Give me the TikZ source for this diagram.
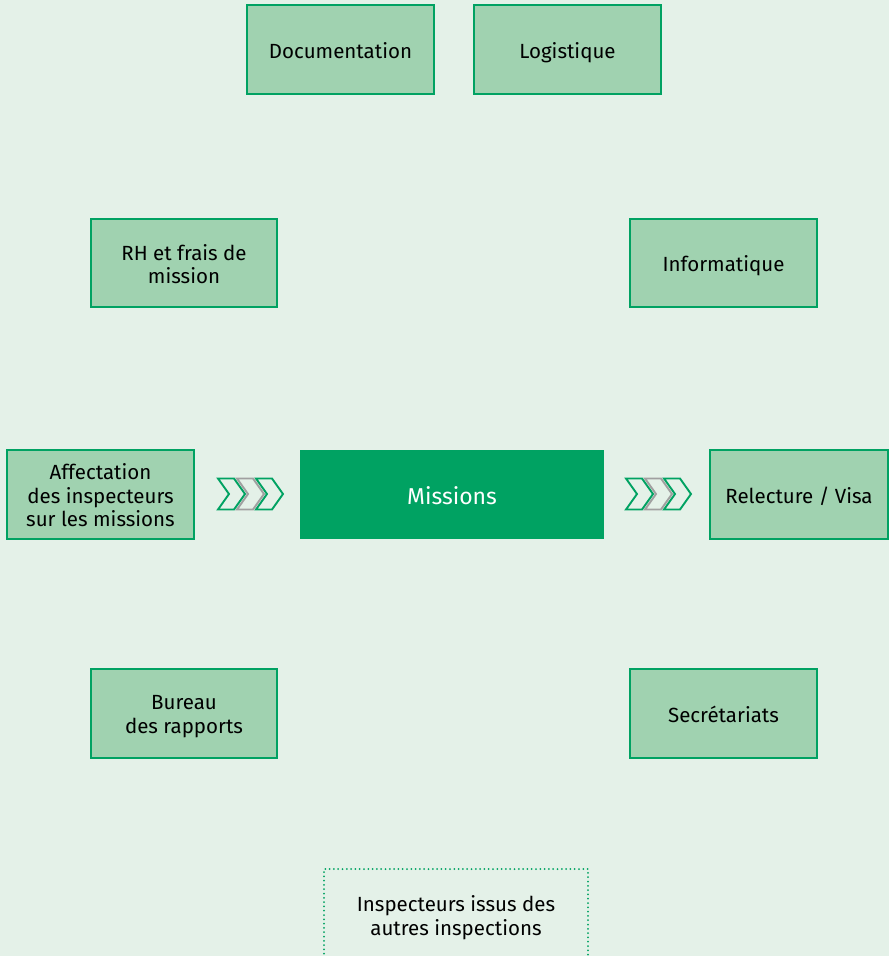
\documentclass[tikz,border=0pt]{standalone}
\usepackage{fontspec}
\setmainfont{Fira Sans}
\definecolor{bg}{HTML}{E4F1E8}
\definecolor{boxfill}{HTML}{A0D2B0}
\definecolor{dgreen}{HTML}{00A262}
\definecolor{chgray}{HTML}{A0A0A0}
\newcommand\mystrut{\rule[-5.5pt]{0pt}{28.5pt}}
\begin{document}
\begin{tikzpicture}[x=1pt,y=-1pt,
  txt/.style={align=center,inner sep=0pt,font=\fontsize{20.5}{23.5}\selectfont,text=black,execute at begin node=\mystrut,execute at end node=\mystrut},
  box/.style={draw=dgreen,line width=2.2pt,fill=boxfill,inner sep=0pt},
  chev/.style={line width=1.9pt,line join=miter}]
\fill[bg] (0,0) rectangle (889,956);
\useasboundingbox (0,0) rectangle (889,956);
\newcommand\bx[7][0pt]{\node[box,minimum width=#4-#3,minimum height=#6-#5] (#2) at ({(#3+#4)/2},{(#5+#6)/2}) {};
  \node[txt] (#2-t) at ([yshift=#1]#2.center) {#7};}
\bx{doc}{247}{434}{5}{94}{Documentation}
\bx{log}{474}{661}{5}{94}{Logistique}
\bx[-3.5pt]{rh}{91}{277}{219}{307}{RH et frais de\\mission}
\bx{info}{630}{817}{219}{307}{Informatique}
\bx[-3.5pt]{aff}{7}{194}{450}{539}{Affectation\\des inspecteurs\\sur les missions}
\bx{rel}{710}{888}{450}{539}{Relecture / Visa}
\bx[-3.5pt]{bur}{91}{277}{669}{758}{Bureau\\des rapports}
\bx{sec}{630}{817}{669}{758}{Secrétariats}
\node[fill=dgreen,inner sep=0pt,minimum width=304,minimum height=89,text=white,font=\fontsize{23}{26}\selectfont,execute at begin node={\rule[-6pt]{0pt}{31.5pt}}] (mis) at (452,494.5) {Missions};
\draw[dgreen,line width=2pt,line cap=round,dash pattern=on 0pt off 4.3pt] (324,958) -- (324,869) -- (588,869) -- (588,958);
\node[txt] (insp) at (456,918) {Inspecteurs issus des\\autres inspections};
\newcommand\chevron[3]{\draw[chev,#3] (#1,#2-15.5) -- ++(16,0) -- ++(11,15.5) -- ++(-11,15.5) -- ++(-16,0) -- ++(11,-15.5) -- cycle;}
\chevron{256}{494}{dgreen}
\chevron{237}{494}{chgray}
\chevron{218}{494}{dgreen}
\chevron{664}{494}{dgreen}
\chevron{645}{494}{chgray}
\chevron{626}{494}{dgreen}
\end{tikzpicture}
\end{document}
